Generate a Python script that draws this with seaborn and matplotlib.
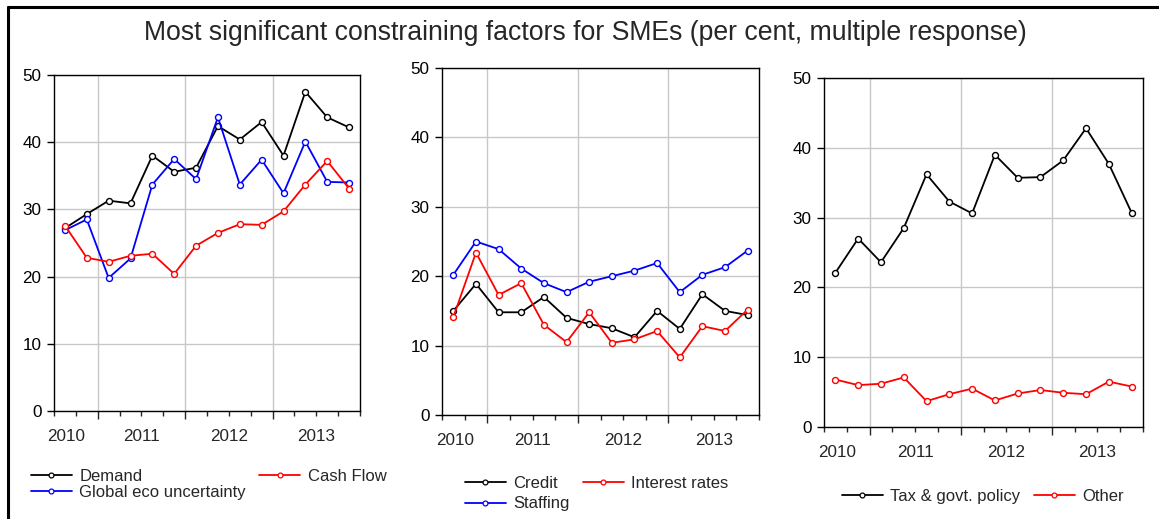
import matplotlib
matplotlib.use("Agg")
import numpy as np
import pandas as pd
import matplotlib.pyplot as plt
from matplotlib.lines import Line2D
import seaborn as sns

# quarterly survey, 2010Q1 .. 2013Q2
periods = pd.period_range('2010Q1', '2013Q2', freq='Q')
years = ['2010', '2011', '2012', '2013']

demand = [27.2, 29.3, 31.3, 30.9, 38.0, 35.6, 36.2, 42.4, 40.4, 43.0, 38.0, 47.5, 43.7, 42.2]
cash_flow = [27.6, 22.8, 22.2, 23.1, 23.4, 20.4, 24.6, 26.5, 27.8, 27.7, 29.7, 33.7, 37.2, 33.1]
global_eco = [26.9, 28.5, 19.8, 22.7, 33.7, 37.5, 34.5, 43.7, 33.7, 37.4, 32.4, 40.1, 34.1, 34.0]

credit = [15.0, 18.9, 14.8, 14.8, 17.0, 14.0, 13.1, 12.5, 11.2, 15.0, 12.4, 17.4, 15.0, 14.4]
interest = [14.1, 23.4, 17.3, 19.0, 13.0, 10.5, 14.8, 10.4, 10.9, 12.1, 8.3, 12.8, 12.1, 15.2]
staffing = [20.2, 25.0, 23.9, 21.1, 19.0, 17.7, 19.2, 20.0, 20.8, 21.9, 17.7, 20.2, 21.3, 23.7]

tax_policy = [22.1, 27.0, 23.6, 28.5, 36.2, 32.3, 30.6, 39.0, 35.7, 35.8, 38.2, 42.8, 37.7, 30.7]
other = [6.8, 6.0, 6.2, 7.1, 3.7, 4.7, 5.5, 3.8, 4.8, 5.3, 4.9, 4.7, 6.5, 5.8]

sns.set_style('white')
plt.rcParams['font.family'] = ['Liberation Sans', 'DejaVu Sans']

W, H = 1159, 519
fig = plt.figure(figsize=(W / 100, H / 100), dpi=100)


def box(l, t, r, b):
    return [l / W, 1 - b / H, (r - l) / W, (b - t) / H]


# order in each list = legend order (column-wise, 2 columns)
panels = [
    (box(54, 75, 360, 411),
     [('Demand', demand, 'black'), ('Global eco uncertainty', global_eco, 'blue'),
      ('Cash Flow', cash_flow, 'red')],
     (31, 469), 0.05),
    (box(442, 68, 759, 415),
     [('Credit', credit, 'black'), ('Staffing', staffing, 'blue'),
      ('Interest rates', interest, 'red')],
     (465, 476), 0.32),
    (box(824, 78, 1143, 427),
     [('Tax & govt. policy', tax_policy, 'black'), ('Other', other, 'red')],
     (842, 489), 0.0),
]

x = np.arange(len(periods)) + 0.5
year_pos = [0.56, 4, 8, 12]
fs = 12.3

for rect, series, leg_xy, lspace in panels:
    ax = fig.add_axes(rect)
    handles = []
    for name, vals, c in series:
        sns.lineplot(x=x, y=vals, ax=ax, color=c, lw=1.3, marker='o', ms=4.3,
                     mfc='white', mec=c, mew=1.0)
        handles.append(Line2D([], [], color=c, lw=1.3, marker='o', ms=3.5,
                              mfc='white', mec=c, mew=0.9))
    ax.set_xlim(0, 14)
    ax.set_ylim(0, 50)
    ax.set_yticks([0, 10, 20, 30, 40, 50])
    ax.set_xticks([2, 6, 10])
    ax.set_xticklabels([])
    ax.set_xticks([0, 1, 3, 4, 5, 7, 8, 9, 11, 12, 13, 14], minor=True)
    ax.grid(True, which='major', color='#c8c8c8', lw=1.0)
    ax.set_axisbelow(True)
    for s in ax.spines.values():
        s.set_color('black')
        s.set_linewidth(1.0)
    ax.tick_params(axis='y', direction='out', length=5, width=1, pad=4,
                   labelsize=fs, left=True, colors='black')
    ax.tick_params(axis='x', which='major', direction='out', length=6, width=1,
                   bottom=True)
    ax.tick_params(axis='x', which='minor', direction='out', length=3.5, width=1,
                   bottom=True)
    for pos, yr in zip(year_pos, years):
        ax.annotate(yr, (pos, 0), xycoords=('data', 'axes fraction'),
                    xytext=(0, -13), textcoords='offset points',
                    ha='center', va='top', fontsize=fs)
    ax.legend(handles, [s[0] for s in series], loc='upper left',
              bbox_to_anchor=(leg_xy[0] / W, 1 - leg_xy[1] / H),
              bbox_transform=fig.transFigure, ncol=2, frameon=False,
              fontsize=12, handlelength=2.45, handletextpad=0.45,
              columnspacing=0.8, labelspacing=lspace, borderpad=0,
              borderaxespad=0)

fig.text(0.505, 1 - 33 / H, 'Most significant constraining factors for SMEs '
         '(per cent, multiple response)', ha='center', va='center', fontsize=19.2)

# outer frame (left and top edges visible in the crop)
fig.add_artist(Line2D([8 / W, 8 / W], [0, 1 - 7 / H], color='black', lw=2.2,
                      transform=fig.transFigure))
fig.add_artist(Line2D([8 / W, 1], [1 - 7 / H, 1 - 7 / H], color='black', lw=2.2,
                      transform=fig.transFigure))

fig.savefig('out.png', dpi=100)
